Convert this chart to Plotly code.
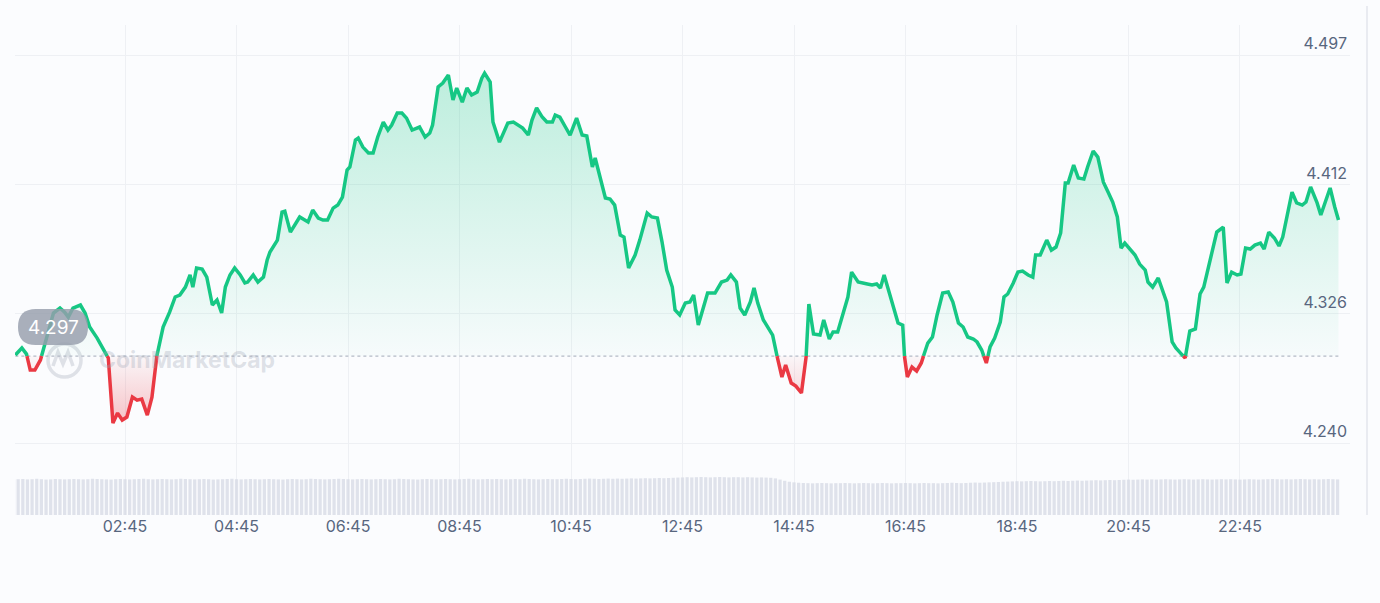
import pandas as pd
import plotly.graph_objects as go

# ---------------- data ----------------
day = pd.Timestamp("2024-01-01 00:00")
# minutes after 00:00 for each price sample
minutes = [47,54,59,63,68,74,81,88,95,100,104,109,117,122,127,135,141,147,152,157,162,167,173,178,183,189,194,199,206,213,219,224,230,235,238,242,248,253,259,264,269,273,278,283,289,294,297,303,308,314,318,321,329,334,337,343,348,353,362,367,373,378,383,389,394,399,404,407,413,416,421,427,432,437,443,448,452,458,463,468,474,479,482,488,493,496,502,507,513,518,522,528,533,538,544,549,552,558,561,568,572,577,583,588,593,599,603,608,614,619,625,628,633,639,644,651,657,662,668,671,676,682,687,692,698,702,707,714,719,727,732,738,743,748,754,757,762,768,773,777,782,787,792,800,807,813,817,823,827,832,838,842,846,852,857,862,867,872,876,882,887,893,898,901,906,913,917,923,927,932,938,943,947,954,964,969,974,978,982,986,992,997,1002,1004,1007,1012,1017,1022,1024,1029,1034,1039,1045,1051,1056,1062,1067,1072,1078,1082,1087,1092,1096,1101,1107,1111,1115,1121,1126,1131,1137,1142,1145,1150,1157,1162,1167,1172,1177,1180,1186,1191,1197,1201,1207,1212,1218,1223,1228,1233,1237,1241,1247,1252,1257,1263,1266,1271,1277,1282,1286,1292,1296,1302,1306,1311,1317,1322,1326,1331,1336,1340,1347,1351,1356,1362,1366,1371,1376,1381,1387,1391,1396,1402,1407,1411,1421,1426,1432,1436,1441,1448,1452,1457,1462,1467,1471]

prices = [4.2983,4.3029,4.2989,4.2883,4.2883,4.2950,4.3102,4.3261,4.3294,4.3267,4.3234,4.3294,4.3314,4.3261,4.3168,4.3095,4.3029,4.2963,4.2532,4.2598,4.2552,4.2572,4.2704,4.2684,4.2691,4.2585,4.2704,4.2969,4.3168,4.3267,4.3367,4.3380,4.3433,4.3513,4.3433,4.3559,4.3552,4.3499,4.3314,4.3347,4.3261,4.3433,4.3513,4.3559,4.3513,4.3460,4.3466,4.3513,4.3466,4.3499,4.3612,4.3665,4.3744,4.3930,4.3936,4.3797,4.3844,4.3897,4.3864,4.3943,4.3890,4.3877,4.3877,4.3956,4.3976,4.4029,4.4208,4.4228,4.4407,4.4420,4.4360,4.4321,4.4321,4.4427,4.4526,4.4473,4.4506,4.4586,4.4586,4.4552,4.4473,4.4486,4.4493,4.4427,4.4453,4.4506,4.4758,4.4784,4.4837,4.4672,4.4751,4.4658,4.4751,4.4705,4.4725,4.4817,4.4850,4.4791,4.4526,4.4393,4.4453,4.4519,4.4526,4.4506,4.4486,4.4440,4.4539,4.4619,4.4559,4.4526,4.4526,4.4572,4.4559,4.4493,4.4440,4.4552,4.4440,4.4433,4.4228,4.4288,4.4162,4.4023,4.4016,4.3976,4.3777,4.3764,4.3559,4.3645,4.3744,4.3923,4.3897,4.3890,4.3731,4.3546,4.3433,4.3281,4.3248,4.3327,4.3334,4.3380,4.3181,4.3281,4.3393,4.3393,4.3466,4.3479,4.3513,4.3466,4.3294,4.3248,4.3334,4.3427,4.3327,4.3215,4.3161,4.3115,4.2969,4.2837,4.2916,4.2797,4.2777,4.2731,4.2969,4.3320,4.3122,4.3115,4.3215,4.3089,4.3135,4.3135,4.3261,4.3367,4.3532,4.3466,4.3453,4.3446,4.3453,4.3427,4.3513,4.3427,4.3294,4.3195,4.3181,4.2969,4.2837,4.2903,4.2877,4.2930,4.2969,4.3062,4.3102,4.3248,4.3393,4.3400,4.3334,4.3195,4.3168,4.3102,4.3089,4.3069,4.3016,4.2930,4.3036,4.3095,4.3201,4.3367,4.3387,4.3460,4.3532,4.3539,4.3513,4.3499,4.3645,4.3645,4.3744,4.3678,4.3698,4.3791,4.4122,4.4122,4.4241,4.4155,4.4148,4.4228,4.4334,4.4294,4.4128,4.4062,4.3996,4.3897,4.3691,4.3724,4.3678,4.3645,4.3585,4.3546,4.3466,4.3433,4.3493,4.3400,4.3334,4.3069,4.3029,4.2989,4.2963,4.3142,4.3155,4.3387,4.3433,4.3566,4.3678,4.3797,4.3830,4.3460,4.3532,4.3513,4.3519,4.3691,4.3685,4.3711,4.3724,4.3685,4.3797,4.3758,4.3705,4.3764,4.4062,4.3990,4.3976,4.3996,4.4096,4.3990,4.3910,4.4009,4.4089,4.3963,4.3877]

open_price = 4.2976  # 24h reference price (dotted line)
open_label = "4.297"

# volume bars, 5-minute buckets starting 00:45
vol_start = "2024-01-01 00:45"
volumes = [178,180,181,179,180,182,180,178,179,181,180,179,180,
           181,180,179,180,182,181,180,179,178,180,181,180,179,
           180,181,182,180,179,180,181,180,179,180,182,181,180,
           179,180,181,180,178,179,180,181,182,180,179,180,181,
           180,179,180,181,180,179,178,180,181,180,179,180,182,
           181,180,179,180,181,182,181,180,179,180,181,180,179,
           180,181,180,179,180,182,181,180,179,178,180,181,180,
           179,180,181,180,179,180,181,182,180,179,180,181,180,
           181,180,179,180,181,180,182,181,180,179,180,181,180,
           180,181,182,181,180,181,182,183,182,181,182,183,182,
           183,182,183,184,183,184,185,184,185,186,185,186,187,
           188,189,190,189,190,191,190,189,190,191,190,189,190,190,189,190,189,188,189,188,
           187,184,178,172,167,164,162,
           161,160,159,160,161,160,159,160,160,161,160,159,160,161,160,159,160,161,160,159,
           160,160,161,160,159,160,161,160,160,159,160,161,162,161,160,161,162,163,162,163,
           164,165,166,
           167,168,169,170,169,170,171,170,169,170,171,170,171,172,171,172,173,172,173,174,
           175,174,175,176,175,176,
           177,178,177,178,179,178,179,178,179,180,179,178,179,180,179,178,179,180,179,178,
           179,180,179,180,179,178,179,180,179,178,179,180,181,180,179,180,179,180,181,180,
           179,180,179,180,181,180,179]

y_tickvals = [4.2400, 4.3257, 4.4113, 4.4970]
y_ticktext = ["4.240", "4.326", "4.412", "4.497"]
x_tick0 = "2024-01-01 02:45"

# ---------------- styling ----------------
GREEN = "#16c784"
RED = "#ea3943"
BG = "#fbfcfe"
GRID = "#eef0f4"
TXT = "#58667e"
FONT = "Inter, Roboto, sans-serif"

n = min(len(minutes), len(prices))
minutes = minutes[:n]
prices = prices[:n]

# insert crossing points with the open price so the colour switch is clean
tx, ty = [], []
for i in range(n):
    if i > 0:
        p0, p1 = prices[i - 1], prices[i]
        if (p0 - open_price) * (p1 - open_price) < 0:
            f = (open_price - p0) / (p1 - p0)
            tx.append(minutes[i - 1] + f * (minutes[i] - minutes[i - 1]))
            ty.append(open_price)
    tx.append(minutes[i])
    ty.append(prices[i])

tdt = [day + pd.Timedelta(minutes=m) for m in tx]
green = [v if v >= open_price else None for v in ty]
red = [v if v <= open_price else None for v in ty]
up = [max(v, open_price) for v in ty]
down = [min(v, open_price) for v in ty]
basel = [open_price] * len(ty)

vol_times = pd.date_range(vol_start, periods=len(volumes), freq="5min")

fig = go.Figure()

# green area
fig.add_trace(go.Scatter(x=tdt, y=basel, mode="lines", line=dict(width=0),
                         hoverinfo="skip", showlegend=False))
fig.add_trace(go.Scatter(x=tdt, y=up, mode="lines", line=dict(width=0),
                         fill="tonexty",
                         fillgradient=dict(type="vertical", start=open_price, stop=max(prices),
                                           colorscale=[[0, "rgba(22,199,132,0.02)"],
                                                       [1, "rgba(22,199,132,0.27)"]]),
                         hoverinfo="skip", showlegend=False))
# red area
fig.add_trace(go.Scatter(x=tdt, y=basel, mode="lines", line=dict(width=0),
                         hoverinfo="skip", showlegend=False))
fig.add_trace(go.Scatter(x=tdt, y=down, mode="lines", line=dict(width=0),
                         fill="tonexty",
                         fillgradient=dict(type="vertical", start=min(prices), stop=open_price,
                                           colorscale=[[0, "rgba(234,57,67,0.30)"],
                                                       [1, "rgba(234,57,67,0.03)"]]),
                         hoverinfo="skip", showlegend=False))

# dotted open-price line
fig.add_trace(go.Scatter(x=[tdt[0], tdt[-1]], y=[open_price, open_price], mode="lines",
                         line=dict(color="#b4bac6", width=1.3, dash="dot"),
                         hoverinfo="skip", showlegend=False))

# price lines
fig.add_trace(go.Scatter(x=tdt, y=green, mode="lines",
                         line=dict(color=GREEN, width=3.5, shape="linear"),
                         connectgaps=False, showlegend=False))
fig.add_trace(go.Scatter(x=tdt, y=red, mode="lines",
                         line=dict(color=RED, width=3.5, shape="linear"),
                         connectgaps=False, showlegend=False))

# volume
fig.add_trace(go.Bar(x=vol_times, y=volumes, yaxis="y2",
                     marker=dict(color="rgba(214,218,228,0.75)", line=dict(width=0)),
                     showlegend=False, hoverinfo="skip"))

# plot area in pixels: x 15..1350, y 25..515
L, R, T, B = 15, 30, 25, 88
W, H = 1380, 603
pw, ph = W - L - R, H - T - B


def px(x):
    return (x - L) / pw


def py(y):
    return (H - B - y) / ph


px_per_unit = (443 - 55) / (4.497 - 4.240)
y_lo = 4.240 - (H - B - 443) / px_per_unit
y_hi = 4.497 + (55 - T) / px_per_unit

x_lo = day + pd.Timedelta(minutes=46.6)
x_hi = day + pd.Timedelta(minutes=1483.4)

vol_top = max(volumes) * ph / 38.0

fig.update_layout(
    width=W, height=H,
    margin=dict(l=L, r=R, t=T, b=B),
    paper_bgcolor=BG, plot_bgcolor=BG,
    font=dict(family=FONT, color=TXT, size=16),
    bargap=0.3,
    xaxis=dict(type="date", range=[x_lo, x_hi], tick0=x_tick0, dtick=2 * 3600 * 1000,
               tickformat="%H:%M", showgrid=True, gridcolor=GRID, gridwidth=1,
               zeroline=False, showline=False, ticks="", ticklen=0,
               tickfont=dict(size=16, color=TXT), fixedrange=True),
    yaxis=dict(range=[y_lo, y_hi], side="right", tickvals=y_tickvals, ticktext=y_ticktext,
               ticklabelposition="inside top", showgrid=True, gridcolor=GRID, gridwidth=1,
               zeroline=False, showline=False, ticks="",
               tickfont=dict(size=16, color=TXT)),
    yaxis2=dict(range=[0, vol_top], overlaying="y", visible=False, showgrid=False),
    showlegend=False,
)

# price badge at the left
x0, x1, y0, y1, r = 18, 88, 309, 345, 18
path = (f"M {px(x0 + r)} {py(y0)} L {px(x1 - r)} {py(y0)} "
        f"Q {px(x1)} {py(y0)} {px(x1)} {py(y0 + r)} "
        f"Q {px(x1)} {py(y1)} {px(x1 - r)} {py(y1)} "
        f"L {px(x0 + r)} {py(y1)} "
        f"Q {px(x0)} {py(y1)} {px(x0)} {py(y0 + r)} "
        f"Q {px(x0)} {py(y0)} {px(x0 + r)} {py(y0)} Z")
fig.add_shape(type="path", path=path, xref="paper", yref="paper",
              fillcolor="rgba(150,157,172,0.82)", line=dict(width=0), layer="above")
fig.add_annotation(x=px(53), y=py(327), xref="paper", yref="paper", text=open_label,
                   xanchor="center", yanchor="middle",
                   showarrow=False, font=dict(family=FONT, size=19, color="white"))

# watermark
fig.add_shape(type="circle", xref="paper", yref="paper",
              x0=px(48), x1=px(81), y0=py(377), y1=py(344),
              line=dict(color="rgba(170,176,190,0.35)", width=3.5), layer="below")
wave = (f"M {px(53)} {py(366)} L {px(58)} {py(352)} L {px(63)} {py(364)} "
        f"L {px(68)} {py(352)} L {px(73)} {py(366)}")
fig.add_shape(type="path", path=wave, xref="paper", yref="paper",
              line=dict(color="rgba(170,176,190,0.35)", width=3.5), layer="below")
fig.add_annotation(x=px(97), y=py(360), xref="paper", yref="paper", xanchor="left",
                   yanchor="middle",
                   text="<b>CoinMarketCap</b>", showarrow=False,
                   font=dict(family=FONT, size=23, color="rgba(160,167,182,0.33)"))

# card edge on the right
fig.add_shape(type="line", xref="paper", yref="paper",
              x0=px(1367), x1=px(1367), y0=py(515), y1=py(6),
              line=dict(color="#e3e6ec", width=1.5))

fig.write_html(
    "out.html",
    config={"displayModeBar": False},
    post_script="document.body.style.margin='0';document.body.style.background='%s';" % BG,
)
